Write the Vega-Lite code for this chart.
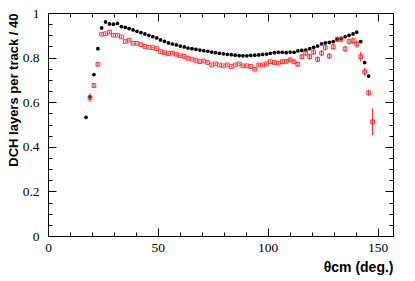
{
  "$schema": "https://vega.github.io/schema/vega-lite/v6.json",
  "width": 345,
  "height": 223,
  "autosize": "none",
  "padding": {"left": 48, "top": 13, "right": 22, "bottom": 45},
  "background": "white",
  "config": {"view": {"stroke": "black", "strokeWidth": 1}, "axis": {"grid": false, "domainColor": "black", "tickColor": "black", "labelColor": "black", "titleColor": "black", "labelOverlap": false, "labelFlush": false, "labelBound": false}},
  "datasets": {
    "black": [
      {"theta": 17.3, "v": 0.532}, {"theta": 19.1, "v": 0.624}, {"theta": 20.9, "v": 0.724}, {"theta": 22.7, "v": 0.840},
      {"theta": 24.4, "v": 0.933}, {"theta": 26.2, "v": 0.960}, {"theta": 28.0, "v": 0.951}, {"theta": 29.8, "v": 0.950},
      {"theta": 31.6, "v": 0.953}, {"theta": 33.4, "v": 0.939}, {"theta": 35.2, "v": 0.936}, {"theta": 36.9, "v": 0.930},
      {"theta": 38.7, "v": 0.924}, {"theta": 40.5, "v": 0.918}, {"theta": 42.3, "v": 0.912}, {"theta": 44.1, "v": 0.906},
      {"theta": 45.9, "v": 0.900}, {"theta": 47.7, "v": 0.894}, {"theta": 49.5, "v": 0.888}, {"theta": 51.2, "v": 0.879},
      {"theta": 53.0, "v": 0.873}, {"theta": 54.8, "v": 0.866}, {"theta": 56.6, "v": 0.861}, {"theta": 58.4, "v": 0.857},
      {"theta": 60.2, "v": 0.852}, {"theta": 62.0, "v": 0.848}, {"theta": 63.7, "v": 0.843}, {"theta": 65.5, "v": 0.840},
      {"theta": 67.3, "v": 0.837}, {"theta": 69.1, "v": 0.834}, {"theta": 70.9, "v": 0.831}, {"theta": 72.7, "v": 0.828},
      {"theta": 74.5, "v": 0.825}, {"theta": 76.2, "v": 0.822}, {"theta": 78.0, "v": 0.819}, {"theta": 79.8, "v": 0.817},
      {"theta": 81.6, "v": 0.815}, {"theta": 83.4, "v": 0.813}, {"theta": 85.2, "v": 0.811}, {"theta": 87.0, "v": 0.809},
      {"theta": 88.7, "v": 0.808}, {"theta": 90.5, "v": 0.808}, {"theta": 92.3, "v": 0.810}, {"theta": 94.1, "v": 0.811},
      {"theta": 95.9, "v": 0.812}, {"theta": 97.7, "v": 0.814}, {"theta": 99.5, "v": 0.816}, {"theta": 101.2, "v": 0.819},
      {"theta": 103.0, "v": 0.822}, {"theta": 104.8, "v": 0.824}, {"theta": 106.6, "v": 0.824}, {"theta": 108.4, "v": 0.822},
      {"theta": 110.2, "v": 0.825}, {"theta": 112.0, "v": 0.824}, {"theta": 113.7, "v": 0.830}, {"theta": 115.5, "v": 0.832},
      {"theta": 117.3, "v": 0.834}, {"theta": 119.1, "v": 0.840}, {"theta": 120.9, "v": 0.846}, {"theta": 122.7, "v": 0.852},
      {"theta": 124.5, "v": 0.862}, {"theta": 126.2, "v": 0.866}, {"theta": 128.0, "v": 0.868}, {"theta": 129.8, "v": 0.872},
      {"theta": 131.6, "v": 0.882}, {"theta": 133.4, "v": 0.886}, {"theta": 135.2, "v": 0.893}, {"theta": 137.0, "v": 0.900},
      {"theta": 138.8, "v": 0.906}, {"theta": 140.5, "v": 0.914}, {"theta": 142.3, "v": 0.872}, {"theta": 144.1, "v": 0.778},
      {"theta": 145.9, "v": 0.717}
    ],
    "red": [
      {"theta": 19.1, "v": 0.620, "e": 0.02}, {"theta": 20.9, "v": 0.675, "e": 0.01}, {"theta": 22.7, "v": 0.770, "e": 0.008},
      {"theta": 24.4, "v": 0.905, "e": 0.004}, {"theta": 26.2, "v": 0.907, "e": 0.004}, {"theta": 28.0, "v": 0.914, "e": 0.004},
      {"theta": 29.8, "v": 0.900, "e": 0.004}, {"theta": 31.6, "v": 0.900, "e": 0.004}, {"theta": 33.4, "v": 0.893, "e": 0.004},
      {"theta": 35.2, "v": 0.872, "e": 0.004}, {"theta": 36.9, "v": 0.878, "e": 0.004}, {"theta": 38.7, "v": 0.864, "e": 0.004},
      {"theta": 40.5, "v": 0.864, "e": 0.004}, {"theta": 42.3, "v": 0.858, "e": 0.004}, {"theta": 44.1, "v": 0.850, "e": 0.004},
      {"theta": 45.9, "v": 0.846, "e": 0.004}, {"theta": 47.7, "v": 0.845, "e": 0.004}, {"theta": 49.5, "v": 0.840, "e": 0.004},
      {"theta": 51.2, "v": 0.827, "e": 0.004}, {"theta": 53.0, "v": 0.822, "e": 0.004}, {"theta": 54.8, "v": 0.818, "e": 0.004},
      {"theta": 56.6, "v": 0.820, "e": 0.004}, {"theta": 58.4, "v": 0.815, "e": 0.004}, {"theta": 60.2, "v": 0.808, "e": 0.004},
      {"theta": 62.0, "v": 0.805, "e": 0.004}, {"theta": 63.7, "v": 0.797, "e": 0.004}, {"theta": 65.5, "v": 0.793, "e": 0.004},
      {"theta": 67.3, "v": 0.787, "e": 0.004}, {"theta": 69.1, "v": 0.782, "e": 0.004}, {"theta": 70.9, "v": 0.785, "e": 0.004},
      {"theta": 72.7, "v": 0.778, "e": 0.004}, {"theta": 74.5, "v": 0.767, "e": 0.004}, {"theta": 76.2, "v": 0.772, "e": 0.004},
      {"theta": 78.0, "v": 0.767, "e": 0.004}, {"theta": 79.8, "v": 0.763, "e": 0.004}, {"theta": 81.6, "v": 0.767, "e": 0.004},
      {"theta": 83.4, "v": 0.760, "e": 0.004}, {"theta": 85.2, "v": 0.767, "e": 0.004}, {"theta": 87.0, "v": 0.772, "e": 0.004},
      {"theta": 88.7, "v": 0.763, "e": 0.004}, {"theta": 90.5, "v": 0.763, "e": 0.004}, {"theta": 92.3, "v": 0.760, "e": 0.004},
      {"theta": 94.1, "v": 0.748, "e": 0.005}, {"theta": 95.9, "v": 0.767, "e": 0.005}, {"theta": 97.7, "v": 0.767, "e": 0.005},
      {"theta": 99.5, "v": 0.772, "e": 0.005}, {"theta": 101.2, "v": 0.782, "e": 0.005}, {"theta": 103.0, "v": 0.778, "e": 0.005},
      {"theta": 104.8, "v": 0.775, "e": 0.006}, {"theta": 106.6, "v": 0.782, "e": 0.006}, {"theta": 108.4, "v": 0.783, "e": 0.007},
      {"theta": 110.2, "v": 0.790, "e": 0.008}, {"theta": 112.0, "v": 0.781, "e": 0.009}, {"theta": 113.7, "v": 0.770, "e": 0.01},
      {"theta": 115.5, "v": 0.804, "e": 0.011}, {"theta": 117.3, "v": 0.820, "e": 0.012}, {"theta": 119.1, "v": 0.804, "e": 0.012},
      {"theta": 120.9, "v": 0.825, "e": 0.012}, {"theta": 122.7, "v": 0.792, "e": 0.013}, {"theta": 124.5, "v": 0.820, "e": 0.013},
      {"theta": 126.2, "v": 0.845, "e": 0.013}, {"theta": 128.0, "v": 0.807, "e": 0.013}, {"theta": 129.8, "v": 0.849, "e": 0.013},
      {"theta": 131.6, "v": 0.882, "e": 0.013}, {"theta": 133.4, "v": 0.882, "e": 0.013}, {"theta": 135.2, "v": 0.839, "e": 0.014},
      {"theta": 137.0, "v": 0.872, "e": 0.014}, {"theta": 138.8, "v": 0.876, "e": 0.015}, {"theta": 140.5, "v": 0.861, "e": 0.016},
      {"theta": 142.3, "v": 0.804, "e": 0.022}, {"theta": 144.1, "v": 0.736, "e": 0.017}, {"theta": 145.9, "v": 0.642, "e": 0.013},
      {"theta": 147.7, "v": 0.512, "e": 0.06}
    ]
  },
  "resolve": {"axis": {"x": "independent", "y": "independent"}},
  "layer": [
    {
      "data": {"name": "black"},
      "mark": {"type": "circle", "color": "black", "size": 14, "opacity": 1},
      "encoding": {
        "x": {"field": "theta", "type": "quantitative", "scale": {"domain": [0, 157], "nice": false},
          "axis": {"orient": "bottom", "values": [0,10,20,30,40,50,60,70,80,90,100,110,120,130,140,150],
            "tickSize": {"condition": {"test": "datum.value % 50 === 0", "value": -8}, "value": -4},
            "labelExpr": "datum.value % 50 === 0 ? datum.label : ''",
            "labelPadding": 12, "labelFont": "Liberation Serif", "labelFontSize": 13.5,
            "title": "θcm (deg.)", "titleAnchor": "end", "titleFont": "Liberation Sans", "titleFontWeight": "bold", "titleFontSize": 14, "titlePadding": 3}},
        "y": {"field": "v", "type": "quantitative", "scale": {"domain": [0, 1], "nice": false},
          "axis": {"orient": "left", "values": [0,0.05,0.1,0.15,0.2,0.25,0.3,0.35,0.4,0.45,0.5,0.55,0.6,0.65,0.7,0.75,0.8,0.85,0.9,0.95,1],
            "tickSize": {"condition": {"test": "abs(datum.value*5 - round(datum.value*5)) < 1e-6", "value": -8}, "value": -4},
            "labelExpr": "abs(datum.value*5 - round(datum.value*5)) < 1e-6 ? format(datum.value, '~g') : ''",
            "labelPadding": 17, "labelFont": "Liberation Serif", "labelFontSize": 13.5,
            "title": "DCH layers per track / 40", "titleAnchor": "end", "titleFont": "Liberation Sans", "titleFontWeight": "bold", "titleFontSize": 13, "titlePadding": 2}}
      }
    },
    {
      "data": {"name": "red"},
      "mark": {"type": "errorbar", "color": "#ff2020", "thickness": 1},
      "encoding": {
        "x": {"field": "theta", "type": "quantitative", "axis": null},
        "y": {"field": "v", "type": "quantitative", "axis": null},
        "yError": {"field": "e"}
      }
    },
    {
      "data": {"name": "red"},
      "mark": {"type": "square", "filled": false, "color": "#ff2020", "size": 14, "strokeWidth": 0.9, "opacity": 1},
      "encoding": {
        "x": {"field": "theta", "type": "quantitative",
          "axis": {"orient": "top", "values": [0,10,20,30,40,50,60,70,80,90,100,110,120,130,140,150],
            "tickSize": {"condition": {"test": "datum.value % 50 === 0", "value": -8}, "value": -4},
            "labels": false, "title": null}},
        "y": {"field": "v", "type": "quantitative",
          "axis": {"orient": "right", "values": [0,0.05,0.1,0.15,0.2,0.25,0.3,0.35,0.4,0.45,0.5,0.55,0.6,0.65,0.7,0.75,0.8,0.85,0.9,0.95,1],
            "tickSize": {"condition": {"test": "abs(datum.value*5 - round(datum.value*5)) < 1e-6", "value": -8}, "value": -4},
            "labels": false, "title": null}}
      }
    }
  ]
}
